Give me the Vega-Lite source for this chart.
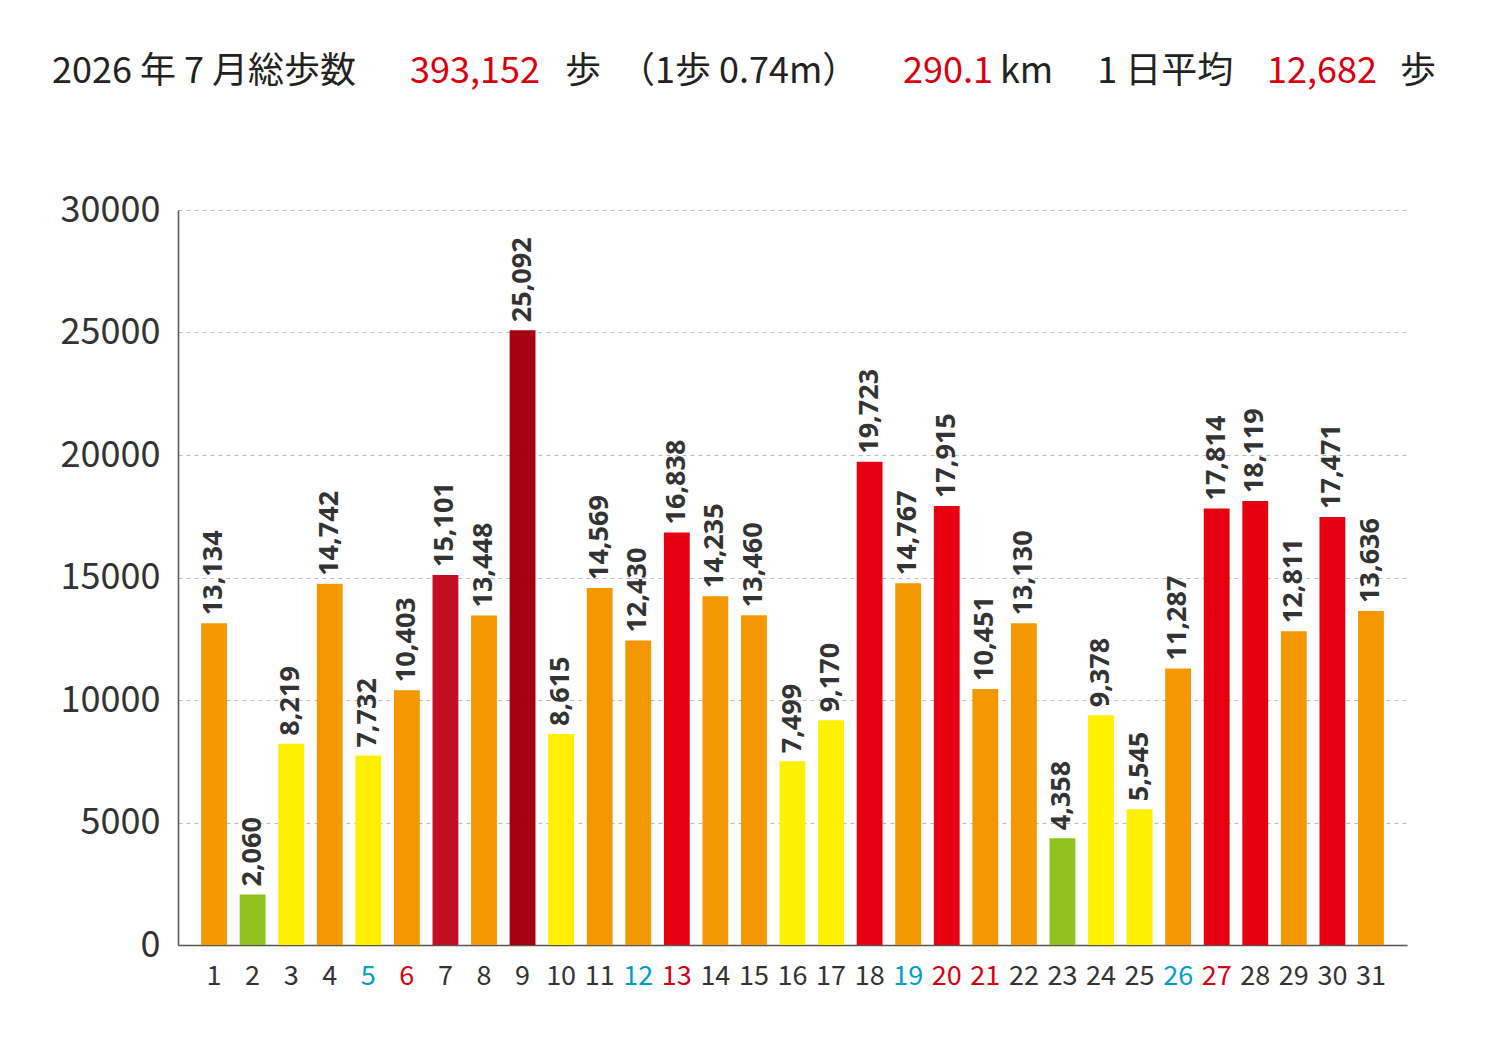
{
  "$schema": "https://vega.github.io/schema/vega-lite/v6.json",
  "width": 1229,
  "height": 735,
  "autosize": "none",
  "padding": {"left": 178, "top": 210, "right": 93, "bottom": 105},
  "background": "white",
  "config": {"view": {"stroke": null}, "font": "Noto Sans CJK JP"},
  "data": {"values": [
    {"day": 1, "steps": 13134, "level": "c"}, {"day": 2, "steps": 2060, "level": "a"},
    {"day": 3, "steps": 8219, "level": "b"}, {"day": 4, "steps": 14742, "level": "c"},
    {"day": 5, "steps": 7732, "level": "b"}, {"day": 6, "steps": 10403, "level": "c"},
    {"day": 7, "steps": 15101, "level": "e"}, {"day": 8, "steps": 13448, "level": "c"},
    {"day": 9, "steps": 25092, "level": "f"}, {"day": 10, "steps": 8615, "level": "b"},
    {"day": 11, "steps": 14569, "level": "c"}, {"day": 12, "steps": 12430, "level": "c"},
    {"day": 13, "steps": 16838, "level": "d"}, {"day": 14, "steps": 14235, "level": "c"},
    {"day": 15, "steps": 13460, "level": "c"}, {"day": 16, "steps": 7499, "level": "b"},
    {"day": 17, "steps": 9170, "level": "b"}, {"day": 18, "steps": 19723, "level": "d"},
    {"day": 19, "steps": 14767, "level": "c"}, {"day": 20, "steps": 17915, "level": "d"},
    {"day": 21, "steps": 10451, "level": "c"}, {"day": 22, "steps": 13130, "level": "c"},
    {"day": 23, "steps": 4358, "level": "a"}, {"day": 24, "steps": 9378, "level": "b"},
    {"day": 25, "steps": 5545, "level": "b"}, {"day": 26, "steps": 11287, "level": "c"},
    {"day": 27, "steps": 17814, "level": "d"}, {"day": 28, "steps": 18119, "level": "d"},
    {"day": 29, "steps": 12811, "level": "c"}, {"day": 30, "steps": 17471, "level": "d"},
    {"day": 31, "steps": 13636, "level": "c"}
  ]},
  "layer": [
    {
      "mark": {"type": "bar"},
      "encoding": {
        "x": {
          "field": "day", "type": "ordinal", "title": null,
          "scale": {"paddingInner": 0.33, "paddingOuter": 0.6},
          "axis": {
            "labelAngle": 0, "labelFontSize": 27, "labelFont": "Noto Sans CJK JP", "labelPadding": 18,
            "ticks": false, "domainColor": "#555", "domainWidth": 1.5,
            "labelColor": {"expr": "indexof([5,12,19,26], datum.value) >= 0 ? '#00a0c6' : indexof([6,13,20,21,27], datum.value) >= 0 ? '#d7000f' : '#333333'"}
          }
        },
        "y": {
          "field": "steps", "type": "quantitative", "title": null,
          "scale": {"domain": [0, 30000]},
          "axis": {
            "values": [0, 5000, 10000, 15000, 20000, 25000, 30000], "format": "d",
            "labelFontSize": 36, "labelColor": "#333", "labelPadding": 18, "ticks": false,
            "domainColor": "#555", "domainWidth": 1.5,
            "grid": true, "gridDash": [4, 4], "gridColor": "#bbbbbb"
          }
        },
        "color": {
          "field": "level", "type": "nominal", "legend": null,
          "scale": {"domain": ["a", "b", "c", "d", "e", "f"],
                    "range": ["#8dc21f", "#fff000", "#f39800", "#e60012", "#c30d23", "#a40010"]}
        }
      }
    },
    {
      "mark": {"type": "text", "angle": 270, "align": "left", "baseline": "middle", "dx": 8,
               "fontSize": 27, "fontWeight": "bold", "font": "Open Sans", "color": "#333"},
      "encoding": {
        "x": {"field": "day", "type": "ordinal"},
        "y": {"field": "steps", "type": "quantitative"},
        "text": {"field": "steps", "type": "quantitative", "format": ","}
      }
    },
    {
      "data": {"values": [
        {"t": "2026 年 7 月総歩数", "px": -126, "c": "k"},
        {"t": "393,152", "px": 232, "c": "r"},
        {"t": "歩　（1歩  0.74m）", "px": 387, "c": "k"},
        {"t": "290.1", "px": 725, "c": "r"},
        {"t": "km　 1 日平均", "px": 822, "c": "k"},
        {"t": "12,682", "px": 1089, "c": "r"},
        {"t": "歩", "px": 1222, "c": "k"}
      ]},
      "mark": {"type": "text", "y": -138, "align": "left", "baseline": "middle", "fontSize": 36},
      "encoding": {
        "x": {"field": "px", "type": "quantitative", "scale": null},
        "text": {"field": "t"},
        "color": {"field": "c", "type": "nominal", "legend": null,
                  "scale": {"domain": ["k", "r"], "range": ["#222222", "#d7000f"]}}
      }
    }
  ],
  "resolve": {"scale": {"color": "independent"}}
}
